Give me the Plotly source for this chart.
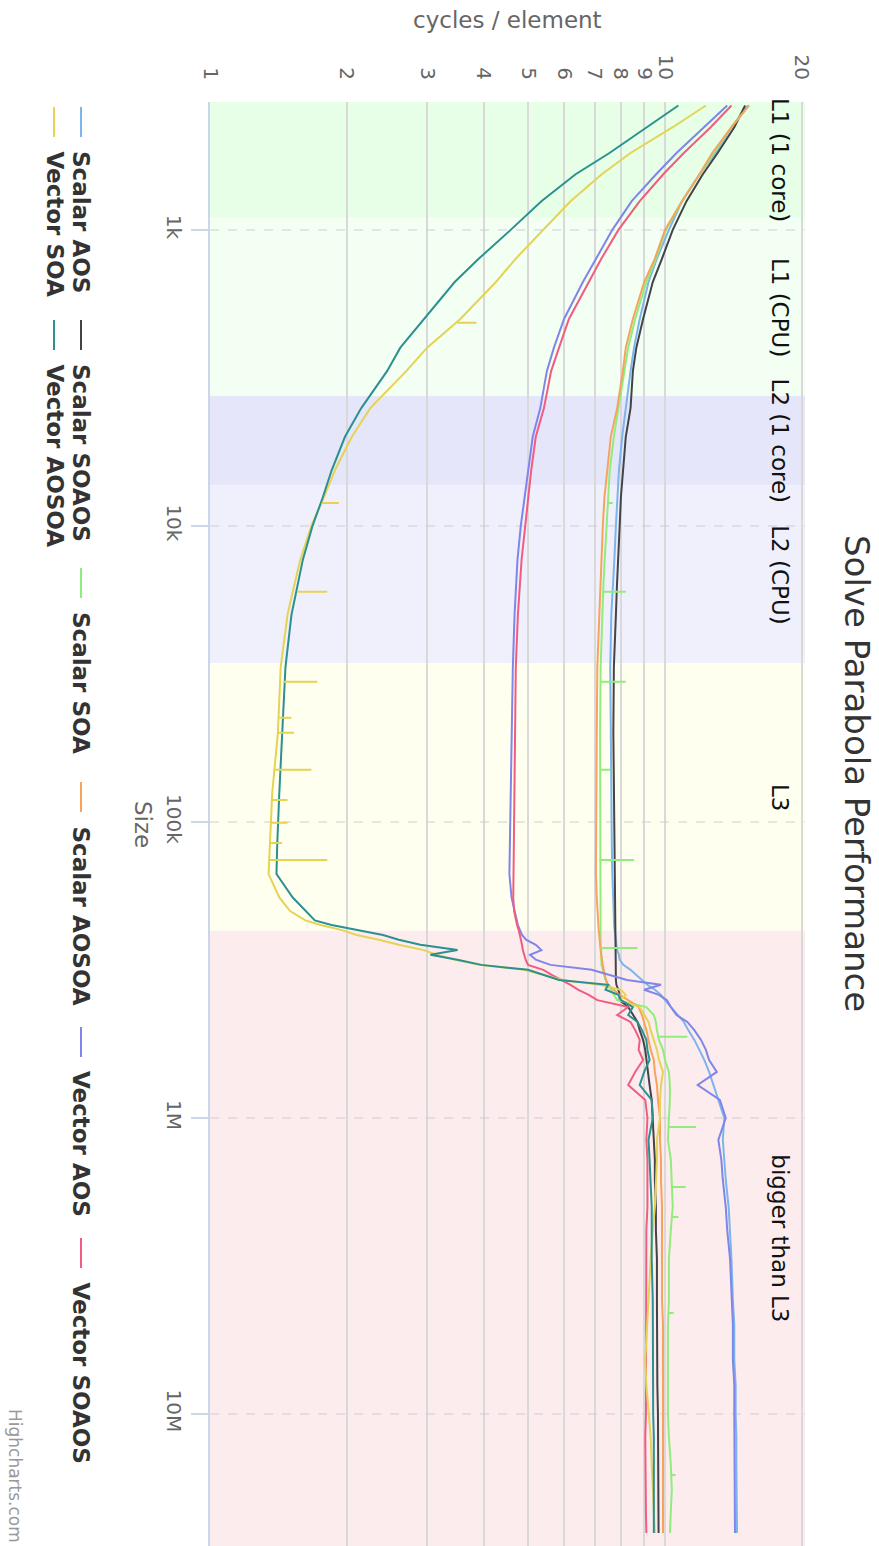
import numpy as np
import plotly.graph_objects as go

# ---- measured data: problem size (elements) vs. cycles per element ----
sizes = [380, 450, 550, 650, 800, 1000, 1250, 1500, 2000, 2500,
         3000, 4000, 5000, 6500, 8000, 10000, 13000, 16000, 20000, 30000,
         50000, 80000, 120000, 150000, 180000, 200000, 215000, 223000, 232000, 241000,
         250000, 260000, 271000, 281000, 292000, 304000, 316000, 329000, 342000, 355000,
         369000, 384000, 400000, 422000, 449000, 474000, 505000, 545000, 589000, 637000,
         699000, 774000, 869000, 1000000, 1186000, 1386000, 1620000, 2000000, 2390000, 3000000,
         4120000, 5000000, 6570000, 7980000, 10070000, 11960000, 14860000, 18070000, 21430000, 25230000]

scalar_aos = [15.2, 14.0, 12.9, 11.9, 10.9, 10.2, 9.6, 9.2, 8.8, 8.55,
              8.4, 8.2, 8.05, 7.92, 7.85, 7.8, 7.74, 7.68, 7.62, 7.58,
              7.6, 7.6, 7.64, 7.66, 7.68, 7.7, 7.72, 7.73, 7.75, 7.77,
              7.8, 7.82, 7.85, 7.92, 7.95, 8.1, 8.4, 8.65, 8.9, 9.15,
              9.5, 9.8, 10.0, 10.3, 10.7, 11.0, 11.25, 11.6, 11.9, 12.2,
              12.5, 12.8, 13.1, 13.5, 13.4, 13.5, 13.6, 13.8, 13.9, 14.0,
              14.1, 14.2, 14.2, 14.3, 14.3, 14.35, 14.35, 14.35, 14.4, 14.4]

scalar_soaos = [15.0, 14.2, 13.05, 12.1, 11.15, 10.4, 9.85, 9.4, 8.95, 8.65,
                8.5, 8.4, 8.2, 8.08, 8.0, 7.95, 7.88, 7.84, 7.8, 7.72,
                7.7, 7.72, 7.73, 7.74, 7.75, 7.76, 7.77, 7.77, 7.78, 7.78,
                7.78, 7.78, 7.78, 7.78, 7.78, 7.79, 7.8, 7.8, 7.8, 7.82,
                7.9, 7.95, 7.95, 8.3, 8.5, 8.7, 8.8, 8.95, 9.05, 9.1,
                9.15, 9.25, 9.35, 9.4, 9.45, 9.5, 9.5, 9.55, 9.55, 9.6,
                9.6, 9.6, 9.62, 9.62, 9.65, 9.65, 9.65, 9.65, 9.68, 9.68]

scalar_soa = [15.3, 14.0, 12.8, 11.9, 10.9, 10.05, 9.55, 9.1, 8.6, 8.3,
              8.15, 7.92, 7.72, 7.56, 7.5, 7.42, 7.37, 7.32, 7.28, 7.22,
              7.2, 7.2, 7.2, 7.2, 7.2, 7.2, 7.2, 7.2, 7.2, 7.2,
              7.22, 7.22, 7.24, 7.25, 7.25, 7.25, 7.3, 7.35, 7.4, 7.48,
              7.6, 7.75, 7.85, 9.1, 9.45, 9.55, 9.6, 9.7, 9.9, 10.0,
              10.2, 10.25, 10.25, 10.2, 10.15, 10.3, 10.35, 10.4, 10.3, 10.2,
              10.2, 10.15, 10.15, 10.15, 10.15, 10.2, 10.3, 10.35, 10.3, 10.25]

scalar_aosoa = [15.3, 14.0, 12.7, 11.9, 10.9, 10.0, 9.5, 9.0, 8.5, 8.2,
                8.08, 7.85, 7.6, 7.45, 7.36, 7.3, 7.25, 7.2, 7.17, 7.1,
                7.08, 7.06, 7.05, 7.05, 7.08, 7.1, 7.12, 7.14, 7.15, 7.17,
                7.18, 7.2, 7.22, 7.24, 7.26, 7.3, 7.33, 7.37, 7.42, 7.5,
                7.7, 7.95, 8.3, 8.75, 8.9, 9.0, 9.1, 9.2, 9.3, 9.45,
                9.5, 9.6, 9.65, 9.75, 9.75, 9.8, 9.8, 9.85, 9.85, 9.85,
                9.85, 9.9, 9.9, 9.9, 9.9, 9.9, 9.9, 9.9, 9.9, 9.9]

vector_aos = [13.7, 12.2, 10.6, 9.55, 8.45, 7.66, 7.05, 6.6, 6.0, 5.7,
              5.5, 5.32, 5.12, 5.0, 4.91, 4.82, 4.74, 4.7, 4.67, 4.63,
              4.6, 4.58, 4.56, 4.55, 4.6, 4.67, 4.72, 4.75, 4.8, 4.85,
              4.95, 5.2, 5.35, 5.05, 5.2, 5.6, 6.9, 7.6, 8.25, 9.8,
              9.0, 9.7, 10.1, 10.3, 10.6, 11.2, 11.6, 12.0, 12.3, 12.5,
              13.0, 11.8, 13.2, 13.6, 13.1, 13.3, 13.4, 13.6, 13.7, 13.9,
              14.0, 14.1, 14.1, 14.2, 14.2, 14.2, 14.2, 14.25, 14.25, 14.25]

vector_soaos = [14.0, 12.6, 11.0, 9.9, 8.8, 7.9, 7.25, 6.8, 6.15, 5.85,
                5.62, 5.42, 5.2, 5.08, 5.0, 4.93, 4.84, 4.79, 4.75, 4.7,
                4.68, 4.66, 4.64, 4.63, 4.64, 4.66, 4.7, 4.73, 4.77, 4.8,
                4.83, 4.85, 4.87, 4.9, 4.94, 5.0, 5.4, 5.65, 5.95, 6.2,
                6.45, 6.8, 7.1, 8.3, 7.85, 8.4, 8.6, 8.8, 8.75, 8.95,
                8.6, 8.3, 9.05, 9.15, 9.1, 9.15, 9.15, 9.15, 9.1, 9.1,
                9.1, 9.08, 9.08, 9.08, 9.08, 9.05, 9.05, 9.05, 9.08, 9.1]

vector_soa = [12.3, 10.4, 8.4, 7.25, 6.2, 5.4, 4.7, 4.25, 3.55, 3.0,
              2.7, 2.25, 2.05, 1.88, 1.78, 1.67, 1.58, 1.53, 1.48, 1.43,
              1.41, 1.37, 1.355, 1.345, 1.42, 1.5, 1.62, 1.75, 1.95, 2.1,
              2.35, 2.6, 2.95, 3.15, 3.45, 3.9, 4.9, 5.4, 5.95, 7.2,
              8.0, 8.2, 7.95, 8.8, 9.0, 9.2, 9.3, 9.45, 9.6, 9.7,
              9.9, 9.8, 9.75, 9.75, 9.6, 9.6, 9.55, 9.5, 9.4, 9.3,
              9.2, 9.15, 9.05, 9.1, 9.2, 9.3, 9.35, 9.4, 9.45, 9.5]

vector_aosoa = [10.7, 9.1, 7.55, 6.35, 5.35, 4.58, 3.9, 3.45, 2.95, 2.62,
                2.45, 2.15, 1.98, 1.85, 1.77, 1.68, 1.6, 1.555, 1.51, 1.465,
                1.44, 1.42, 1.405, 1.4, 1.52, 1.62, 1.7, 1.85, 2.1, 2.4,
                2.6, 2.9, 3.5, 3.05, 3.5, 3.95, 5.0, 5.45, 5.85, 7.5,
                7.4, 7.9, 8.0, 8.5, 8.3, 8.7, 8.9, 9.1, 9.15, 9.25,
                9.0, 8.8, 9.35, 9.4, 9.2, 9.25, 9.3, 9.35, 9.35, 9.35,
                9.4, 9.4, 9.4, 9.42, 9.42, 9.45, 9.45, 9.45, 9.45, 9.45]

# single-sample outliers: (size, level before/after, peak)
vector_soa_spike_sizes = [2060, 8360, 16700, 33600, 44500, 50000, 66700, 84300, 100700, 117800, 134400]
vector_soa_spike_base = [3.5, 1.76, 1.56, 1.45, 1.42, 1.41, 1.38, 1.37, 1.36, 1.355, 1.35]
vector_soa_spike_peak = [3.85, 1.92, 1.81, 1.72, 1.51, 1.53, 1.67, 1.48, 1.48, 1.44, 1.81]

scalar_soa_spike_sizes = [8360, 16700, 33600, 66700, 134400, 266600, 532000, 1072000, 1710000, 2160000, 4560000, 16070000]
scalar_soa_spike_base = [7.5, 7.34, 7.22, 7.2, 7.18, 7.22, 9.65, 10.2, 10.35, 10.4, 10.2, 10.3]
scalar_soa_spike_peak = [7.68, 8.2, 8.2, 7.58, 8.55, 8.7, 11.2, 11.7, 11.1, 10.7, 10.45, 10.55]

series_names = ["Scalar AOS", "Scalar SOAOS", "Scalar SOA", "Scalar AOSOA",
                "Vector AOS", "Vector SOAOS", "Vector SOA", "Vector AOSOA"]
series_values = [scalar_aos, scalar_soaos, scalar_soa, scalar_aosoa,
                 vector_aos, vector_soaos, vector_soa, vector_aosoa]
series_colors = ["#7cb5ec", "#434348", "#90ed7d", "#f7a35c",
                 "#8085e9", "#f15c80", "#e4d354", "#2b908f"]

# cache capacities expressed in elements
band_edges = [910, 3641, 7282, 29127, 233017]
band_labels = ["L1 (1 core)", "L1 (CPU)", "L2 (1 core)", "L2 (CPU)", "L3", "bigger than L3"]
band_colors = ["#e6ffe6", "#f2fff2", "#e6e6fa", "#f0f0fc", "#fffff0", "#fdeced"]

value_ticks = [1, 2, 3, 4, 5, 6, 7, 8, 9, 10, 20]
size_ticks = [1e3, 1e4, 1e5, 1e6, 1e7]
size_tick_labels = ["1k", "10k", "100k", "1M", "10M"]

# ---- geometry ----
W, H = 879, 1546
PL, PR, PT, PB = 210, 805, 102, 1546
SIZE_LOG = (2.568, 7.446)     # log10 range of the size axis (top -> bottom)
VAL_LOG = (0.0, 1.3077)       # log10 range of the cycles axis (left -> right)
FONT = "DejaVu Sans"


def paper_x(px):
    return (px - PL) / (PR - PL)


def paper_y(py):
    return (PB - py) / (PB - PT)


def size_to_paper(s):
    return (SIZE_LOG[1] - np.log10(s)) / (SIZE_LOG[1] - SIZE_LOG[0])


fig = go.Figure()

for name, vals, color in zip(series_names, series_values, series_colors):
    fig.add_trace(go.Scatter(x=vals, y=sizes, mode="lines", name=name,
                             line=dict(color=color, width=2), showlegend=False))


def spike_trace(sz, base, peak, color):
    xs, ys = [], []
    for s, b, p in zip(sz, base, peak):
        xs += [b, p, b, None]
        ys += [s, s, s, None]
    return go.Scatter(x=xs, y=ys, mode="lines", line=dict(color=color, width=2),
                      showlegend=False, hoverinfo="skip")


fig.add_trace(spike_trace(scalar_soa_spike_sizes, scalar_soa_spike_base,
                          scalar_soa_spike_peak, series_colors[2]))
fig.add_trace(spike_trace(vector_soa_spike_sizes, vector_soa_spike_base,
                          vector_soa_spike_peak, series_colors[6]))

# cache bands
shapes = []
annotations = []
edges = [10 ** SIZE_LOG[0]] + band_edges + [10 ** SIZE_LOG[1]]
for i, (lab, col) in enumerate(zip(band_labels, band_colors)):
    lo, hi = edges[i], edges[i + 1]
    shapes.append(dict(type="rect", xref="paper", yref="paper", x0=0, x1=1,
                       y0=size_to_paper(hi), y1=size_to_paper(lo),
                       fillcolor=col, line=dict(width=0), layer="below"))
    mid = 10 ** ((np.log10(lo) + np.log10(hi)) / 2)
    annotations.append(dict(text=lab, xref="paper", yref="paper",
                            x=paper_x(780), y=size_to_paper(mid), textangle=90,
                            showarrow=False, xanchor="center", yanchor="middle",
                            font=dict(family=FONT, size=23, color="#111111")))

# titles
annotations.append(dict(text="Solve Parabola Performance", xref="paper", yref="paper",
                        x=paper_x(857), y=paper_y(773), textangle=90, showarrow=False,
                        xanchor="center", yanchor="middle",
                        font=dict(family=FONT, size=34, color="#333333")))
annotations.append(dict(text="cycles / element", xref="paper", yref="paper",
                        x=paper_x(507), y=paper_y(20), showarrow=False,
                        xanchor="center", yanchor="middle",
                        font=dict(family=FONT, size=23, color="#666666")))
annotations.append(dict(text="Size", xref="paper", yref="paper",
                        x=paper_x(143), y=paper_y(824), textangle=90, showarrow=False,
                        xanchor="center", yanchor="middle",
                        font=dict(family=FONT, size=23, color="#666666")))
annotations.append(dict(text="Highcharts.com", xref="paper", yref="paper",
                        x=paper_x(15), y=paper_y(1476), textangle=90, showarrow=False,
                        xanchor="center", yanchor="middle",
                        font=dict(family=FONT, size=17, color="#999999")))

# legend drawn as rotated rows
legend_rows = [(81, series_names[:6], series_colors[:6]),
               (54, series_names[6:], series_colors[6:])]
legend_cols = [107, 320, 568, 782, 1027, 1238]
for row_x, names, colors in legend_rows:
    for name, col, y0 in zip(names, colors, legend_cols):
        shapes.append(dict(type="line", xref="paper", yref="paper",
                           x0=paper_x(row_x), x1=paper_x(row_x),
                           y0=paper_y(y0), y1=paper_y(y0 + 30),
                           line=dict(color=col, width=2)))
        annotations.append(dict(text="<b>%s</b>" % name, xref="paper", yref="paper",
                                x=paper_x(row_x), y=paper_y(y0 + 42), textangle=90,
                                showarrow=False, xanchor="center", yanchor="top",
                                font=dict(family=FONT, size=23, color="#333333")))

fig.update_layout(
    width=W, height=H,
    margin=dict(l=PL, r=W - PR, t=PT, b=H - PB, pad=0),
    paper_bgcolor="white",
    plot_bgcolor="rgba(0,0,0,0)",
    showlegend=False,
    shapes=shapes,
    annotations=annotations,
    xaxis=dict(type="log", range=list(VAL_LOG), side="top",
               tickvals=value_ticks, ticktext=[str(v) for v in value_ticks],
               tickangle=90, tickfont=dict(family=FONT, size=20, color="#666666"),
               showgrid=True, gridcolor="#d9d9d9", gridwidth=2,
               zeroline=False, showline=False, ticks="", ticklabelstandoff=18,
               automargin=False, fixedrange=True),
    yaxis=dict(type="log", range=[SIZE_LOG[1], SIZE_LOG[0]],
               tickvals=size_ticks, ticktext=size_tick_labels,
               tickangle=90, tickfont=dict(family=FONT, size=20, color="#666666"),
               ticks="outside", ticklen=17, tickwidth=2, tickcolor="#ccd6eb",
               showline=True, linecolor="#ccd6eb", linewidth=2,
               showgrid=True, gridcolor="rgba(200,200,210,0.45)", gridwidth=2,
               griddash="dash", zeroline=False, automargin=False, fixedrange=True),
)

fig.write_html("out.html")
